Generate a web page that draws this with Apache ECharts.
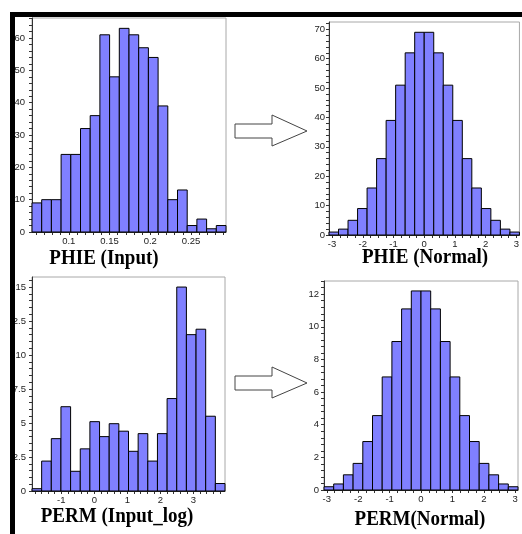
<!DOCTYPE html>
<html><head><meta charset="utf-8">
<script src="https://cdn.jsdelivr.net/npm/echarts@6/dist/echarts.min.js"></script>
<style>html,body{margin:0;padding:0;background:#fff}#c{width:522px;height:534px}</style>
</head><body><div id="c"></div>
<script>
// ---- PHIE (Input) ----
const phieInCounts = [9, 10, 10, 24, 24, 32, 36, 61, 48, 63, 61, 57, 54, 39, 10, 13, 2, 4, 1, 2];
const phieInBinStart = 0.0549;
const phieInBinWidth = 0.0119;
const phieInXLabels = [0.1, 0.15, 0.2, 0.25];
const phieInYLabels = [0, 10, 20, 30, 40, 50, 60];
// ---- PHIE (Normal) ----
const phieNormCounts = [1, 2, 5, 9, 16, 26, 39, 51, 62, 69, 69, 62, 51, 39, 26, 16, 9, 5, 2, 1];
const phieNormBinStart = -3.1;
const phieNormBinWidth = 0.31;
const phieNormXLabels = [-3, -2, -1, 0, 1, 2, 3];
const phieNormYLabels = [0, 10, 20, 30, 40, 50, 60, 70];
// ---- PERM (Input_log) ----
const permInCounts = [0.17, 2.2, 3.85, 6.2, 1.45, 3.1, 5.1, 4.0, 4.95, 4.4, 2.92, 4.22, 2.2, 4.22, 6.8, 15.0, 11.5, 11.9, 5.5, 0.55];
const permInBinStart = -1.885;
const permInBinWidth = 0.292;
const permInXLabels = [-1, 0, 1, 2, 3];
const permInYLabels = [0, 2.5, 5, 7.5, 10, 12.5, 15];
// ---- PERM (Normal) ----
const permNormCounts = [0.2, 0.37, 0.93, 1.63, 2.97, 4.56, 6.93, 9.1, 11.1, 12.2, 12.2, 11.1, 9.1, 6.93, 4.56, 2.97, 1.63, 0.93, 0.37, 0.2];
const permNormBinStart = -3.09;
const permNormBinWidth = 0.309;
const permNormXLabels = [-3, -2, -1, 0, 1, 2, 3];
const permNormYLabels = [0, 2, 4, 6, 8, 10, 12];

const titles = ['PHIE (Input)', 'PHIE (Normal)', 'PERM (Input_log)', 'PERM(Normal)'];

function tickVals(min, max, step) {
  const out = [];
  for (let k = Math.ceil(min / step - 1e-9); k * step <= max + 1e-9; k++) out.push(+(k * step).toFixed(6));
  return out;
}

const grids = [], xAxes = [], yAxes = [], series = [];
const labelStyle = { fontFamily: 'Liberation Sans', fontSize: 9.5, color: '#222' };

function renderBar(params, api) {
  const p0 = api.coord([api.value(0), api.value(2)]);
  const p1 = api.coord([api.value(1), 0]);
  return {
    type: 'rect',
    shape: { x: p0[0], y: p0[1], width: p1[0] - p0[0], height: p1[1] - p0[1] },
    style: { fill: '#8080ff', stroke: '#000', lineWidth: 1 }
  };
}

function panel(i, box, counts, start, width, xLab, xStep, yLab, yStep, yMax, yMargin) {
  const xMin = start, xMax = start + width * counts.length;
  grids.push({ left: box[0], top: box[1], width: box[2], height: box[3], show: true,
    borderColor: '#a8a8a8', borderWidth: 1, backgroundColor: '#fff' });
  xAxes.push({ type: 'value', gridIndex: i, min: xMin, max: xMax,
    axisLine: { show: true, onZero: false, lineStyle: { color: '#333', width: 1 } },
    axisTick: { show: true, customValues: tickVals(xMin, xMax, xStep), length: 3, lineStyle: { color: '#333' } },
    axisLabel: Object.assign({ customValues: xLab, margin: 4 }, labelStyle),
    splitLine: { show: false } });
  yAxes.push({ type: 'value', gridIndex: i, min: 0, max: yMax,
    axisLine: { show: true, onZero: false, lineStyle: { color: '#333', width: 1 } },
    axisTick: { show: true, customValues: tickVals(0, yMax, yStep), length: 3, lineStyle: { color: '#333' } },
    axisLabel: Object.assign({ customValues: yLab, margin: yMargin }, labelStyle),
    splitLine: { show: false } });
  series.push({ type: 'custom', xAxisIndex: i, yAxisIndex: i, renderItem: renderBar,
    encode: { x: [0, 1], y: 2 },
    data: counts.map((c, k) => [start + k * width, start + (k + 1) * width, c]) });
}

panel(0, [32, 18, 194, 214], phieInCounts, phieInBinStart, phieInBinWidth, phieInXLabels, 0.01, phieInYLabels, 2, 66.2, 7);
panel(1, [329, 22, 192, 213], phieNormCounts, phieNormBinStart, phieNormBinWidth, phieNormXLabels, 0.25, phieNormYLabels, 2, 72.5, 4);
panel(2, [32, 277, 193, 214], permInCounts, permInBinStart, permInBinWidth, permInXLabels, 0.2, permInYLabels, 0.5, 15.74, 6);
panel(3, [324, 281, 194, 209], permNormCounts, permNormBinStart, permNormBinWidth, permNormXLabels, 0.25, permNormYLabels, 0.4, 12.81, 5);

function arrow(dy) {
  return { type: 'polygon', z: 50,
    shape: { points: [[235, 124 + dy], [272, 124 + dy], [272, 115 + dy], [307, 131 + dy], [272, 146 + dy], [272, 138 + dy], [235, 138 + dy]] },
    style: { fill: '#fff', stroke: '#444', lineWidth: 1 } };
}
function titleText(txt, x, y) {
  return { type: 'text', x: x, y: y, z: 50, scaleX: 0.95,
    style: { text: txt, font: 'bold 20px "Liberation Serif"', fill: '#000', align: 'center', verticalAlign: 'middle' } };
}

const chart = echarts.init(document.getElementById('c'), null, { renderer: 'canvas' });
chart.setOption({
  animation: false,
  backgroundColor: '#fff',
  grid: grids, xAxis: xAxes, yAxis: yAxes, series: series,
  graphic: [
    arrow(0), arrow(252),
    titleText(titles[0], 104, 259),
    titleText(titles[1], 425, 258),
    titleText(titles[2], 117, 517),
    titleText(titles[3], 420, 520),
    { type: 'rect', z: 100, shape: { x: 0, y: 0, width: 10, height: 534 }, style: { fill: '#fff' } },
    { type: 'rect', z: 100, shape: { x: 0, y: 0, width: 522, height: 12 }, style: { fill: '#fff' } },
    { type: 'rect', z: 100, shape: { x: 10, y: 12, width: 512, height: 5 }, style: { fill: '#000' } },
    { type: 'rect', z: 100, shape: { x: 10, y: 12, width: 5, height: 522 }, style: { fill: '#000' } }
  ]
});
</script></body></html>
